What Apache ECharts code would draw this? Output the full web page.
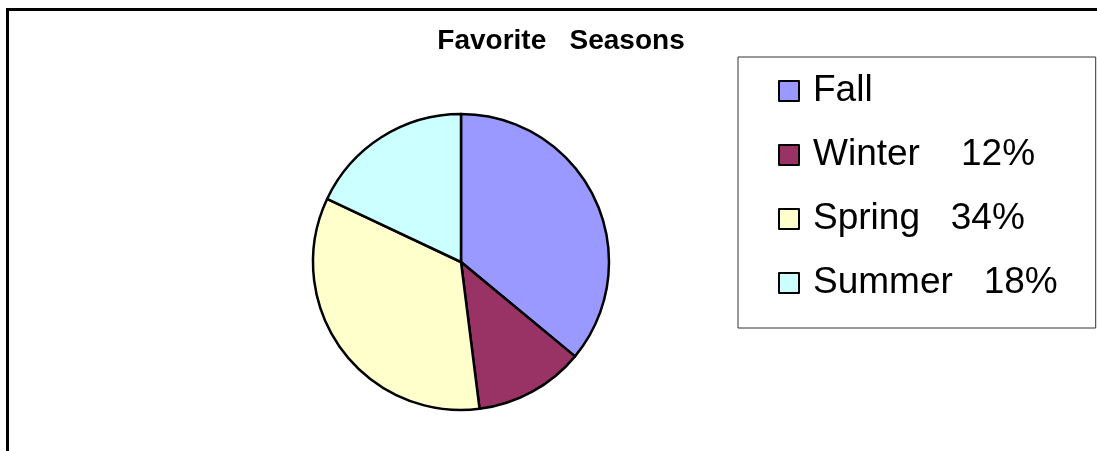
<!DOCTYPE html>
<html>
<head>
<meta charset="utf-8">
<script src="https://cdn.jsdelivr.net/npm/echarts@6/dist/echarts.min.js"></script>
<style>
  html, body { margin: 0; padding: 0; background: #ffffff; }
  #chart { width: 1097px; height: 451px; }
</style>
</head>
<body>
<div id="chart"></div>
<script>
// Favorite seasons survey (percent of responses)
const seasons = ['Fall', 'Winter', 'Spring', 'Summer'];
const shares = [36, 12, 34, 18];
const legendText = ['Fall', 'Winter    12%', 'Spring   34%', 'Summer   18%'];
const sliceColors = ['#9999FF', '#993366', '#FFFFCC', '#CCFFFF'];

const chart = echarts.init(document.getElementById('chart'), null, { renderer: 'canvas' });

const labelByName = {};
seasons.forEach((s, i) => { labelByName[s] = legendText[i]; });

chart.setOption({
  animation: false,
  backgroundColor: '#ffffff',
  title: {
    text: 'Favorite   Seasons',
    left: 556,
    top: 22,
    textAlign: 'center',
    textStyle: {
      fontFamily: 'Liberation Sans, Arial, sans-serif',
      fontWeight: 'bold',
      fontSize: 28,
      color: '#000000'
    }
  },
  legend: {
    orient: 'vertical',
    left: 738,
    top: 57,
    padding: [14, 38, 25, 40],
    itemWidth: 20,
    itemHeight: 20,
    itemGap: 24,
    borderColor: '#333333',
    borderWidth: 1,
    icon: 'rect',
    itemStyle: { borderColor: '#000000', borderWidth: 2 },
    formatter: name => labelByName[name],
    textStyle: {
      fontFamily: 'Liberation Sans, Arial, sans-serif',
      fontSize: 37,
      lineHeight: 40,
      color: '#000000',
      padding: [0, 0, 0, 9]
    },
    data: seasons
  },
  graphic: [{
    type: 'polyline',
    shape: { points: [[7.5, 451], [7.5, 9.5], [1097, 9.5]] },
    style: { stroke: '#000000', lineWidth: 3, fill: null },
    silent: true
  }],
  series: [{
    type: 'pie',
    center: [461, 262],
    radius: 148,
    startAngle: 90,
    clockwise: true,
    label: { show: false },
    labelLine: { show: false },
    emphasis: { disabled: true },
    itemStyle: { borderColor: '#000000', borderWidth: 2.5 },
    data: seasons.map((s, i) => ({
      name: s,
      value: shares[i],
      itemStyle: { color: sliceColors[i] }
    }))
  }]
});
</script>
</body>
</html>
